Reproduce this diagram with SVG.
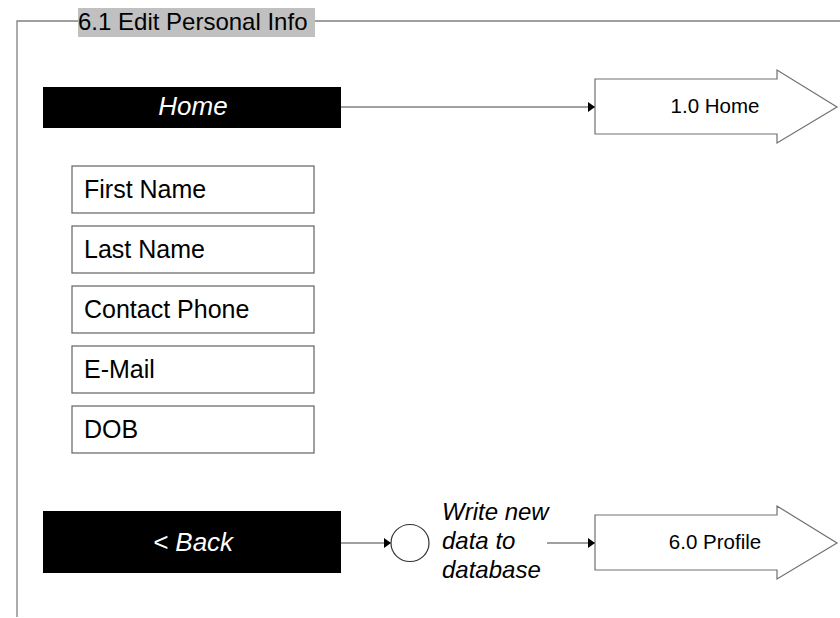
<svg xmlns="http://www.w3.org/2000/svg" width="840" height="618" viewBox="0 0 840 618">
<style>
text{font-family:"Liberation Sans",Arial,sans-serif;}
.frame{stroke:#808080;stroke-width:1.3;fill:none;}
.bar{fill:#000;}
.bartxt{fill:#fff;font-size:26px;font-style:italic;text-anchor:middle;}
.field{fill:#fff;stroke:#6e6e6e;stroke-width:1.3;}
.ftxt{fill:#000;font-size:25px;}
.conn{stroke:#808080;stroke-width:1.3;fill:none;}
.page{fill:#fff;stroke:#707070;stroke-width:1.2;}
.ptxt{fill:#000;font-size:20.5px;text-anchor:middle;}
.note{fill:#000;font-size:24px;font-style:italic;}
</style>
<defs>
<marker id="ah" markerWidth="7" markerHeight="10" refX="7" refY="5" orient="auto" markerUnits="userSpaceOnUse">
<path d="M0,0 L7,5 L0,10 Z" fill="#000"/>
</marker>
</defs>
<g id="frame">
<path class="frame" d="M17,617 V21 H78 M315,21 H840"/>
<rect x="78" y="8" width="237" height="29" fill="#c0c0c0"/>
<text x="78" y="30" font-size="24" fill="#000">6.1 Edit Personal Info</text>
</g>
<g id="home-btn">
<rect class="bar" x="43" y="87" width="298" height="41"/>
<text class="bartxt" x="193" y="115">Home</text>
</g>
<g id="first-name"><rect class="field" x="72" y="166" width="242" height="47"/><text class="ftxt" x="84" y="198">First Name</text></g>
<g id="last-name"><rect class="field" x="72" y="226" width="242" height="47"/><text class="ftxt" x="84" y="258">Last Name</text></g>
<g id="contact-phone"><rect class="field" x="72" y="286" width="242" height="47"/><text class="ftxt" x="84" y="318">Contact Phone</text></g>
<g id="email"><rect class="field" x="72" y="346" width="242" height="47"/><text class="ftxt" x="84" y="378">E-Mail</text></g>
<g id="dob"><rect class="field" x="72" y="406" width="242" height="47"/><text class="ftxt" x="84" y="438">DOB</text></g>
<g id="back-btn">
<rect class="bar" x="43" y="511" width="298" height="62"/>
<text class="bartxt" x="193" y="551">&lt; Back</text>
</g>
<g id="write-db">
<ellipse cx="410" cy="543" rx="19" ry="18.5" fill="#fff" stroke="#333" stroke-width="1.2"/>
<text class="note"><tspan x="442" y="520">Write new</tspan><tspan x="442" y="549">data to</tspan><tspan x="442" y="578">database</tspan></text>
</g>
<g id="page-home">
<path class="page" d="M595,79 H777 V70 L837,107 L777,143 V134 H595 Z"/>
<text class="ptxt" x="715" y="113">1.0 Home</text>
</g>
<g id="page-profile">
<path class="page" d="M595,515 H777 V506 L837,543 L777,579 V570 H595 Z"/>
<text class="ptxt" x="715" y="549">6.0 Profile</text>
</g>
<g id="connectors">
<line class="conn" x1="341" y1="107" x2="595" y2="107" marker-end="url(#ah)"/>
<line class="conn" x1="341" y1="543" x2="391" y2="543" marker-end="url(#ah)"/>
<line class="conn" x1="547" y1="543" x2="595" y2="543" marker-end="url(#ah)"/>
</g>
</svg>
